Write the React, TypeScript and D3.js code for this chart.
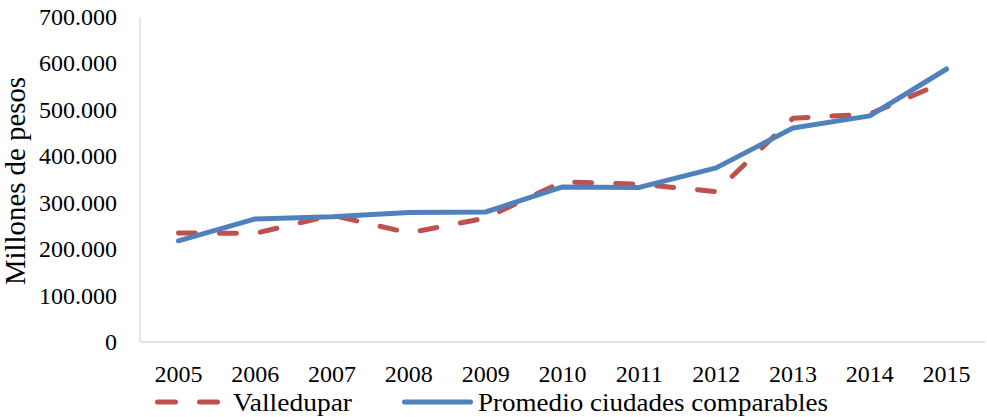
import * as d3 from 'd3';
import React, { useEffect, useRef } from "react";

const years = ['2005', '2006', '2007', '2008', '2009', '2010', '2011', '2012', '2013', '2014', '2015'];
const valledupar = [235, 234, 273, 235, 267, 345, 340, 324, 482, 491, 562];
const promedio = [218, 265, 270, 279, 280, 334, 333, 375, 461, 487, 588];
const yTicks = [0, 100, 200, 300, 400, 500, 600, 700];

const seriesNames = ['Valledupar', 'Promedio ciudades comparables'];
const seriesColors = ['#C0504D', '#4F81BD'];

const W = 987, H = 417;
const margin = { left: 140, top: 17, right: 2, bottom: 75 };
const FONT = 'Liberation Serif, serif';

const fmt = (v: number) => v === 0 ? '0' : d3.format(',')(v * 1000).replace(/,/g, '.');

export default function App() {
  const ref = useRef<SVGSVGElement>(null);

  useEffect(() => {
    const svg = d3.select(ref.current);
    svg.selectAll('*').remove();
    const innerW = W - margin.left - margin.right;
    const innerH = H - margin.top - margin.bottom;

    const x = d3.scalePoint().domain(years).range([0, innerW]).padding(0.5);
    const y = d3.scaleLinear().domain([0, 700]).range([innerH, 0]);

    const g = svg.append('g').attr('transform', `translate(${margin.left},${margin.top})`);

    // axis lines
    g.append('line').attr('x1', 0).attr('x2', 0).attr('y1', y(700)).attr('y2', y(0))
      .attr('stroke', '#d9d9d9').attr('stroke-width', 1.3);
    g.append('line').attr('x1', 0).attr('x2', innerW).attr('y1', y(0)).attr('y2', y(0))
      .attr('stroke', '#d9d9d9').attr('stroke-width', 1.3);

    // y tick labels
    g.selectAll('.ylab').data(yTicks).enter().append('text')
      .attr('x', -23).attr('y', d => y(d) + 8)
      .attr('text-anchor', 'end')
      .attr('font-family', FONT).attr('font-size', 24)
      .attr('fill', '#000')
      .text(d => fmt(d));

    // x tick labels
    g.selectAll('.xlab').data(years).enter().append('text')
      .attr('x', d => x(d)!).attr('y', 382 - margin.top)
      .attr('text-anchor', 'middle')
      .attr('font-family', FONT).attr('font-size', 24)
      .attr('fill', '#000')
      .text(d => d);

    // y axis title
    svg.append('text')
      .attr('transform', `translate(25,181) rotate(-90)`)
      .attr('text-anchor', 'middle')
      .attr('font-family', FONT).attr('font-size', 28.5)
      .attr('textLength', 208).attr('lengthAdjust', 'spacingAndGlyphs')
      .text('Millones de pesos');

    const line = d3.line<number>().x((d, i) => x(years[i])!).y(d => y(d));

    g.append('path').datum(valledupar).attr('d', line)
      .attr('fill', 'none').attr('stroke', seriesColors[0]).attr('stroke-width', 5)
      .attr('stroke-linecap', 'round').attr('stroke-linejoin', 'round')
      .attr('stroke-dasharray', '17,24');

    g.append('path').datum(promedio).attr('d', line)
      .attr('fill', 'none').attr('stroke', seriesColors[1]).attr('stroke-width', 5)
      .attr('stroke-linecap', 'round').attr('stroke-linejoin', 'round');

    // legend
    const leg = svg.append('g');
    leg.append('line').attr('x1', 157.5).attr('x2', 217.5).attr('y1', 402).attr('y2', 402)
      .attr('stroke', seriesColors[0]).attr('stroke-width', 5)
      .attr('stroke-linecap', 'round').attr('stroke-dasharray', '18,24');
    leg.append('text').attr('x', 233).attr('y', 411)
      .attr('font-family', FONT).attr('font-size', 26)
      .attr('textLength', 119).attr('lengthAdjust', 'spacingAndGlyphs')
      .text(seriesNames[0]);
    leg.append('line').attr('x1', 404.5).attr('x2', 470.5).attr('y1', 402).attr('y2', 402)
      .attr('stroke', seriesColors[1]).attr('stroke-width', 5).attr('stroke-linecap', 'round');
    leg.append('text').attr('x', 478).attr('y', 411)
      .attr('font-family', FONT).attr('font-size', 26)
      .attr('textLength', 350).attr('lengthAdjust', 'spacingAndGlyphs')
      .text(seriesNames[1]);
  }, []);

  return (
    <div style={{ position: 'absolute', left: 0, top: 0 }}>
      <svg ref={ref} width={W} height={H} style={{ display: 'block', background: '#fff' }} />
    </div>
  );
}
